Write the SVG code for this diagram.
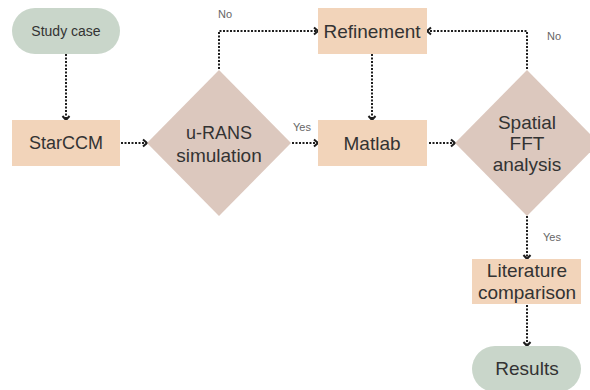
<svg xmlns="http://www.w3.org/2000/svg" width="590" height="390" viewBox="0 0 590 390">
<defs>
<marker id="chev" markerUnits="userSpaceOnUse" markerWidth="10" markerHeight="10" viewBox="0 0 10 10" refX="7" refY="5" orient="auto">
<path d="M3,1.5 L7,5 L3,8.5" fill="none" stroke="#1e1e1e" stroke-width="2"/>
</marker>
<style>
.term{fill:#c9d6ca}
.proc{fill:#f2d4ba}
.dec{fill:#dcc8be}
.t{font-family:"Liberation Sans",Arial,sans-serif;fill:#333;text-anchor:middle;dominant-baseline:central}
.lbl{font-family:"Liberation Sans",Arial,sans-serif;fill:#666;font-size:11px}
.c{fill:none;stroke:#1e1e1e;stroke-width:2;stroke-dasharray:2 1.5;marker-end:url(#chev)}
</style>
</defs>
<rect width="590" height="390" fill="#fff"/>
<g id="connectors">
<path class="c" d="M66,54 V120"/>
<path class="c" d="M121,143 H147"/>
<path class="c" d="M219,69 V31 H318"/>
<path class="c" d="M292,143 H318"/>
<path class="c" d="M372,54 V120"/>
<path class="c" d="M429,143 H455"/>
<path class="c" d="M527,69 V31 H427"/>
<path class="c" d="M527,216 V259"/>
<path class="c" d="M527,305 V346"/>
<text class="lbl" x="218" y="18">No</text>
<text class="lbl" x="293" y="131">Yes</text>
<text class="lbl" x="547" y="40">No</text>
<text class="lbl" x="543" y="241">Yes</text>
</g>
<g id="study-case">
<rect class="term" x="12" y="8" width="108" height="46" rx="23"/>
<text class="t" x="66" y="31" font-size="14">Study case</text>
</g>
<g id="starccm">
<rect class="proc" x="12" y="120" width="108" height="46"/>
<text class="t" x="66" y="143" font-size="18">StarCCM</text>
</g>
<g id="urans">
<polygon class="dec" points="219,70 291,143 219,216 147,143"/>
<text class="t" x="219" y="133" font-size="18">u-RANS</text>
<text class="t" x="219" y="155" font-size="19">simulation</text>
</g>
<g id="refinement">
<rect class="proc" x="318" y="8" width="109" height="46"/>
<text class="t" x="372" y="31" font-size="19">Refinement</text>
</g>
<g id="matlab">
<rect class="proc" x="318" y="120" width="109" height="46"/>
<text class="t" x="372" y="143" font-size="19">Matlab</text>
</g>
<g id="spatial-fft">
<polygon class="dec" points="527,70 599,143 527,216 455,143"/>
<text class="t" x="527" y="122" font-size="19">Spatial</text>
<text class="t" x="527" y="143" font-size="19">FFT</text>
<text class="t" x="527" y="164" font-size="19">analysis</text>
</g>
<g id="literature">
<rect class="proc" x="472" y="259" width="109" height="45"/>
<text class="t" x="527" y="270" font-size="19">Literature</text>
<text class="t" x="527" y="292" font-size="19">comparison</text>
</g>
<g id="results">
<rect class="term" x="472" y="346" width="109" height="46" rx="23"/>
<text class="t" x="527" y="368" font-size="19">Results</text>
</g>
</svg>
